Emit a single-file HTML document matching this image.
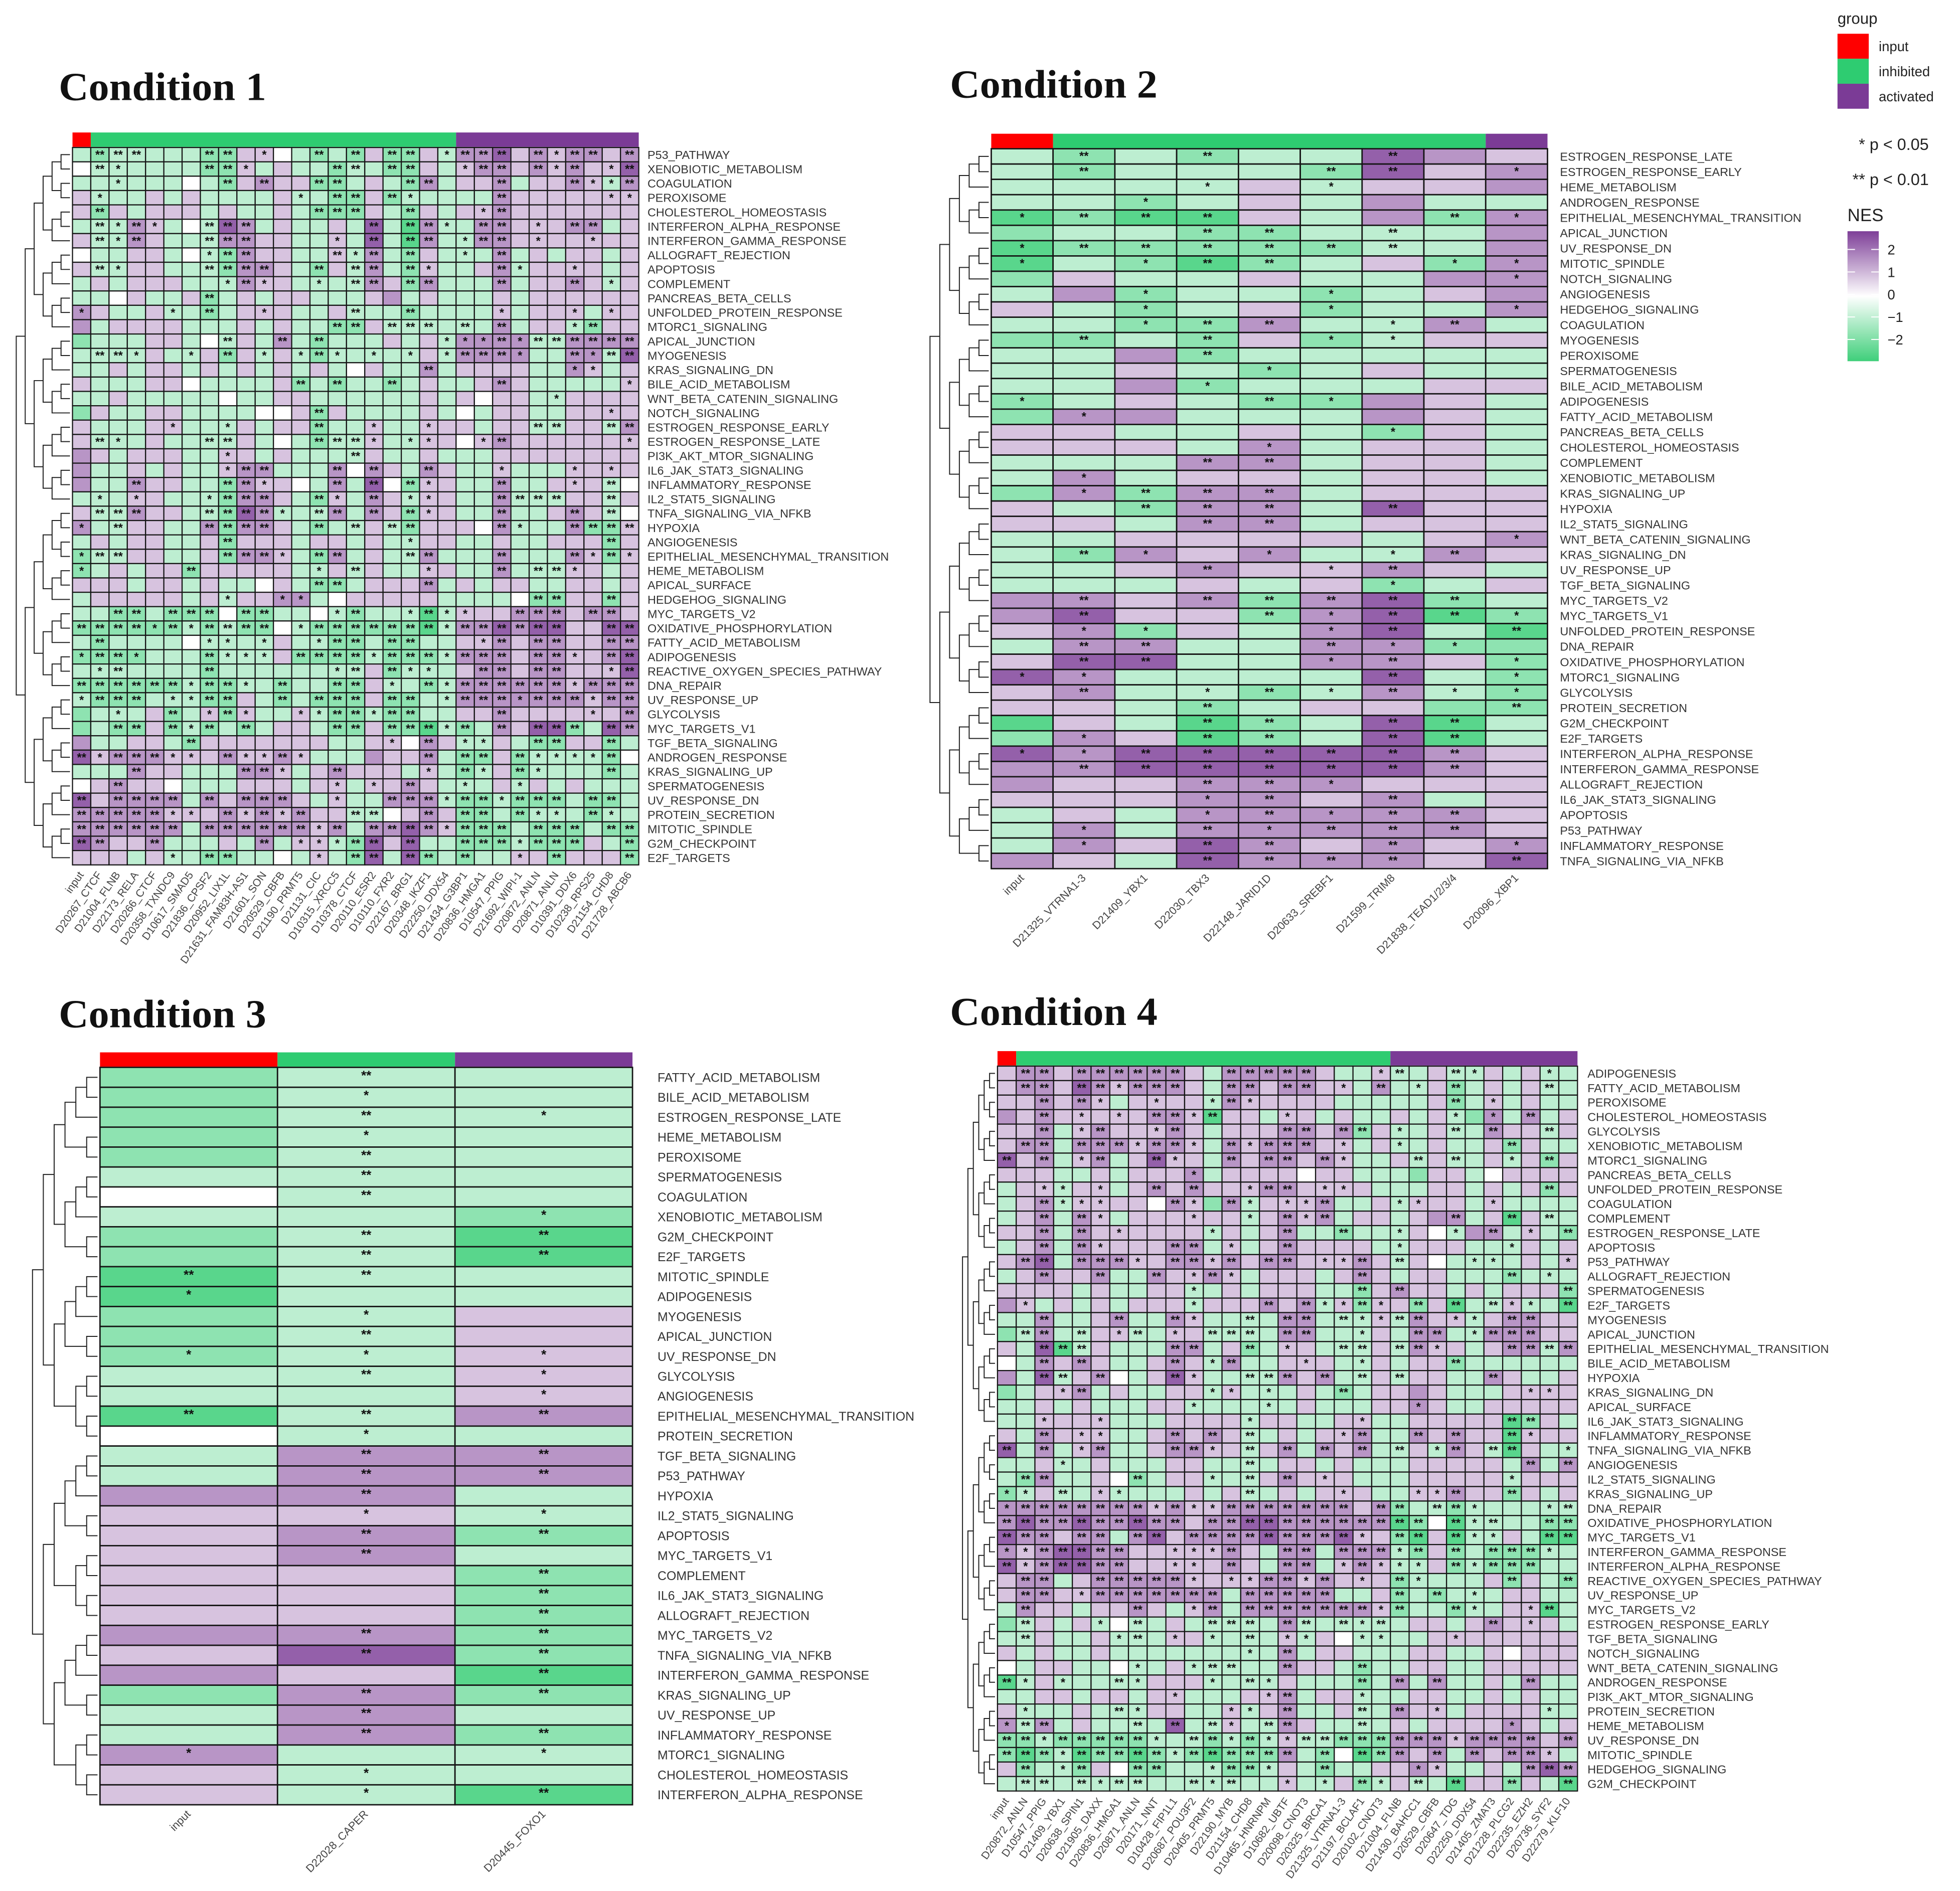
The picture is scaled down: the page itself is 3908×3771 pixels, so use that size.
<!DOCTYPE html>
<html><head><meta charset="utf-8">
<style>
html,body{margin:0;padding:0;background:#fff;}
svg{display:block;}
text{font-family:"Liberation Sans",sans-serif;}
.title{font-family:"Liberation Serif",serif;font-weight:bold;}
</style></head>
<body>
<svg id="fig" width="3908" height="3771" viewBox="0 0 1568 1513" preserveAspectRatio="none" xmlns="http://www.w3.org/2000/svg">
<g id="legend">
 <text x="1470" y="19" font-size="12.5" fill="#222">group</text>
 <rect x="1470" y="27" width="25" height="20" fill="#ff0000"/>
 <rect x="1470" y="47" width="25" height="20" fill="#2ecc71"/>
 <rect x="1470" y="67" width="25" height="20" fill="#7b3b96"/>
 <text x="1503" y="41" font-size="11" fill="#222">input</text>
 <text x="1503" y="61" font-size="11" fill="#222">inhibited</text>
 <text x="1503" y="81" font-size="11" fill="#222">activated</text>
 <text x="1487" y="120" font-size="13" fill="#222">* p &lt; 0.05</text>
 <text x="1482" y="148" font-size="13" fill="#222">** p &lt; 0.01</text>
 <text x="1478" y="177" font-size="14" fill="#222">NES</text>
 <defs><linearGradient id="nesg" x1="0" y1="0" x2="0" y2="1">
  <stop offset="0" stop-color="#7e3f98"/><stop offset="0.5" stop-color="#ffffff"/><stop offset="1" stop-color="#3fcf7a"/>
 </linearGradient></defs>
 <rect x="1478" y="185" width="25" height="104" fill="url(#nesg)"/>
 <g id="nesTicks"></g>
</g>
<g id="panels"></g>
</svg>
<script>
// ===== Shared data =====
const levelMap = {G:-2.5, g:-1.7, l:-1.0, w:0.0, q:0.9, p:1.6, P:2.4};
const nesTickValues = [2,1,0,-1,-2];
const nesTickLabels = ["2","1","0","\u22121","\u22122"];

// ===== Condition 1 =====
const c1Rows = ["P53_PATHWAY","XENOBIOTIC_METABOLISM","COAGULATION","PEROXISOME","CHOLESTEROL_HOMEOSTASIS","INTERFERON_ALPHA_RESPONSE","INTERFERON_GAMMA_RESPONSE","ALLOGRAFT_REJECTION","APOPTOSIS","COMPLEMENT","PANCREAS_BETA_CELLS","UNFOLDED_PROTEIN_RESPONSE","MTORC1_SIGNALING","APICAL_JUNCTION","MYOGENESIS","KRAS_SIGNALING_DN","BILE_ACID_METABOLISM","WNT_BETA_CATENIN_SIGNALING","NOTCH_SIGNALING","ESTROGEN_RESPONSE_EARLY","ESTROGEN_RESPONSE_LATE","PI3K_AKT_MTOR_SIGNALING","IL6_JAK_STAT3_SIGNALING","INFLAMMATORY_RESPONSE","IL2_STAT5_SIGNALING","TNFA_SIGNALING_VIA_NFKB","HYPOXIA","ANGIOGENESIS","EPITHELIAL_MESENCHYMAL_TRANSITION","HEME_METABOLISM","APICAL_SURFACE","HEDGEHOG_SIGNALING","MYC_TARGETS_V2","OXIDATIVE_PHOSPHORYLATION","FATTY_ACID_METABOLISM","ADIPOGENESIS","REACTIVE_OXYGEN_SPECIES_PATHWAY","DNA_REPAIR","UV_RESPONSE_UP","GLYCOLYSIS","MYC_TARGETS_V1","TGF_BETA_SIGNALING","ANDROGEN_RESPONSE","KRAS_SIGNALING_UP","SPERMATOGENESIS","UV_RESPONSE_DN","PROTEIN_SECRETION","MITOTIC_SPINDLE","G2M_CHECKPOINT","E2F_TARGETS"];
const c1Cols = ["input","D20267_CTCF","D21004_FLNB","D22173_RELA","D20266_CTCF","D20358_TXNDC9","D10617_SMAD5","D21836_CPSF2","D20952_LIX1L","D21631_FAM83H-AS1","D21601_SON","D20529_CBFB","D21190_PRMT5","D21131_CIC","D10315_XRCC5","D10378_CTCF","D20110_ESR2","D10110_FXR2","D22167_BRG1","D20348_IKZF1","D22250_DDX54","D21434_G3BP1","D20836_HMGA1","D10547_PPIG","D21692_WIPI-1","D20872_ANLN","D20871_ANLN","D10391_DDX6","D10238_RPS25","D21154_CHD8","D21728_ABCB6"];
const c1Groups = [1,20,10];
const c1Cells = [
"l0 g2 l2 l2 l0 l0 l0 g2 g2 q0 q1 w0 l0 g2 l0 g2 q0 g2 g2 q0 l1 p2 p2 P2 q0 p2 q1 p2 p2 q0 p2",
"w0 l2 l1 l0 l0 l0 l0 g2 g2 q1 l0 q0 l0 l0 g2 l2 l0 g2 g2 q0 l0 q1 p2 p2 q0 p2 q1 p2 q0 q1 P2",
"l0 l0 l1 l0 l0 l0 w0 l0 g2 q0 p2 q0 q0 g2 g2 l0 q0 l0 g2 p2 l0 q0 q0 p2 l0 q0 q0 p2 q1 l1 p2",
"q0 l1 l0 l0 q0 l0 q0 l0 l0 l0 l0 q0 l1 l0 g2 g2 q0 g2 l1 l0 l0 l0 l0 p2 q0 q0 q0 q0 q0 q1 q1",
"q0 g2 q0 l0 q0 q0 q0 l0 q0 l0 l0 q0 l0 g2 g2 g2 q0 l0 g2 q0 l0 q0 q1 p2 q0 q0 q0 q0 q0 q0 q0",
"l0 l2 l1 p2 q1 l0 w0 l2 P2 p2 l0 q0 l0 l0 q0 l0 P2 l0 G2 p2 l1 l0 p2 p2 q0 q1 q0 p2 p2 l0 q0",
"q0 l2 l1 p2 q0 l0 l0 l2 p2 p2 q0 q0 l0 l0 q1 l0 P2 l0 G2 p2 l0 l1 p2 p2 q0 q1 q0 q0 q1 q0 q0",
"w0 l0 l0 q0 q0 l0 w0 l1 g2 p2 q0 q0 l0 l0 q2 l1 p2 l0 g2 q0 l0 l1 l0 p2 l0 q0 l0 q0 q0 l0 q0",
"q0 l2 l1 q0 q0 l0 l0 l2 g2 p2 p2 q0 l0 g2 q0 l2 p2 l0 g2 q1 l0 l0 q0 p2 l1 q0 q0 q1 q0 l0 q0",
"l0 q0 l0 q0 q0 q0 l0 l0 l1 p2 q1 q0 l0 l1 l0 l2 p2 q0 g2 p2 l0 l0 l0 p2 l0 q0 q0 p2 q0 l1 q0",
"l0 l0 w0 q0 l0 l0 q0 g2 l0 q0 l0 q0 q0 l0 l0 l0 q0 p0 l0 q0 l0 l0 l0 q0 l0 q0 q0 q0 q0 q0 q0",
"p1 q0 l0 l0 q0 l1 l0 g2 l0 q0 q1 q0 l0 l0 q0 l2 l0 l0 g2 l0 l0 l0 l0 q1 l0 q0 q0 q1 l0 q1 q0",
"p0 l0 q0 q0 q0 q0 l0 l0 l0 q0 l0 q0 l0 l0 g2 g2 q0 l2 l2 l2 l0 l2 l0 p2 l0 q0 q0 l1 g2 q0 q0",
"g0 l0 l0 l0 q0 q0 l0 w0 l2 q0 l0 p2 l0 g2 l0 l0 l0 q0 l0 q0 l1 p1 p1 p2 p1 l2 l2 p2 p2 p2 p2",
"l0 l2 l2 l1 q0 l0 l1 q0 g2 q0 l1 q0 l1 g2 l1 l0 l1 l0 l1 q0 l1 p2 p2 p2 p1 l0 l0 p2 p1 l2 P2",
"l0 l0 q0 l0 q0 q0 l0 q0 l0 q0 l0 q0 l0 q0 l0 w0 q0 l0 l0 p2 l0 q0 q0 q0 q0 l0 l0 p1 q1 l0 q0",
"q0 l0 l0 l0 q0 q0 w0 l0 l0 l0 l0 q0 g2 l0 g2 l0 l0 g2 l0 q0 l0 l0 q0 p2 q0 l0 l0 l0 l0 l0 q1",
"l0 l0 q0 l0 l0 l0 l0 l0 w0 l0 l0 q0 q0 l0 l0 l0 l0 l0 l0 q0 l0 q0 w0 q0 q0 l0 l1 q0 q0 q0 q0",
"g0 q0 l0 l0 q0 q0 l0 l0 l0 l0 w0 w0 q0 g2 q0 l0 l0 l0 l0 q0 l0 w0 l0 q0 q0 l0 l0 q0 q0 q1 q0",
"q0 l0 l0 l0 q0 q1 l0 l0 l1 q0 l0 q0 q0 g2 l0 l0 q1 l0 l0 q1 q0 q0 l0 q0 q0 l2 l2 q0 q0 l2 p2",
"q0 l2 l1 l0 q0 l0 l0 l2 l2 q0 l0 w0 l0 g2 l2 l2 q1 l0 l1 q1 q0 w0 q1 p2 q0 q0 q0 q0 q0 q0 q1",
"p0 q0 l0 q0 q0 q0 l0 l0 q1 q0 l0 q0 l0 l0 l0 l2 q0 l0 l0 q0 l0 l0 l0 q0 q0 q0 q0 q0 q0 q0 q0",
"p0 l0 l0 q0 l0 q0 l0 l0 q1 p2 p2 l0 l0 l0 p2 w0 p2 q0 l0 p2 q0 l0 l0 q1 l0 l0 l0 q1 q0 q1 q0",
"p0 l0 l0 p2 q0 q0 l0 l0 g2 p2 q1 q0 w0 l0 p2 l0 P2 w0 g2 q1 q0 l0 l0 p2 l0 l0 q0 q1 q0 l2 w0",
"l0 l1 l0 q1 q0 l0 l0 l1 g2 p2 p2 q0 l0 g2 q1 l0 p2 q0 l1 q1 q0 l0 l0 p2 l2 l2 l2 q0 q0 l2 q0",
"q0 l2 l2 p2 q0 q0 l0 l2 g2 P2 p2 l1 l0 l2 p2 l0 p2 q0 g2 q1 q0 l0 l0 p2 l0 l0 q0 p2 q0 l2 w0",
"p1 l0 l2 q0 q0 l0 l0 p2 g2 p2 p2 q0 l0 g2 l0 l2 q0 l2 g2 q0 q0 q0 w0 p2 l1 l0 l0 p2 g2 g2 q2",
"l0 q0 l0 q0 q0 l0 l0 q0 g2 q0 q0 q0 l0 q0 q0 l0 q0 l0 l1 q0 q0 l0 l0 q0 l0 l0 q0 q0 q0 g2 q0",
"g1 l2 l2 q0 q0 l0 l0 q0 g2 p2 p2 q1 l0 g2 p2 l0 q0 l0 l2 p2 l0 l0 l0 p2 l0 l0 l0 p2 q1 g2 q1",
"g1 l0 q0 l0 q0 q0 g2 q0 q0 q0 q0 q0 l0 l1 q0 l2 q0 l0 l0 q1 q0 l0 l0 p2 l0 l2 l2 q1 q0 l0 q0",
"q0 q0 q0 l0 q0 q0 l0 q0 l0 l0 w0 q0 l0 g2 g2 l0 q0 q0 q0 p2 l0 q0 l0 q0 q0 l0 l0 q0 q0 l0 q0",
"l0 q0 q0 q0 q0 q0 l0 q0 l1 q0 q0 p1 p1 l0 w0 q0 q0 q0 q0 q0 l0 l0 l0 l0 w0 g2 g2 q0 q0 g2 q0",
"l0 l0 g2 g2 l0 g2 g2 g2 w0 g2 g2 l0 l0 w0 l1 g2 l0 l0 l1 G2 l1 q1 q0 q0 p2 p2 p2 q0 p2 p2 q0",
"g2 g2 g2 g2 g1 g2 l1 g2 l2 g2 g2 w0 l1 g2 g2 g2 g2 g2 g2 G2 l1 p2 p2 P2 p2 P2 P2 q0 q0 P2 P2",
"l0 g2 l0 l0 l0 l0 w0 l1 l1 l0 l1 q0 l0 l1 g2 g2 l0 g2 g2 l0 l0 q0 q1 p2 q0 p2 p2 q0 q0 p2 p2",
"g1 g2 g2 g1 l0 l0 l0 g2 l1 l1 l1 q0 g2 g2 g2 g2 l1 g2 g2 g2 l1 p2 p2 p2 q0 p2 p2 q1 q0 p2 P2",
"l0 l1 l2 l0 l0 l0 l0 g2 l0 l0 l0 l0 l0 l0 l1 l2 q0 g2 l1 l1 l0 q0 p2 p2 q0 p2 p2 q0 q0 q1 P2",
"g2 g2 g2 g2 g2 g2 l1 g2 g2 l1 l0 g2 l0 l0 g2 g2 q0 l1 l0 g2 l1 p2 p2 p2 p2 p2 p2 q1 p2 p2 p2",
"l1 g2 g2 g2 l0 l1 l1 g2 g2 q0 l0 g2 l0 g2 g2 g2 q0 g2 g2 l0 l1 p2 p2 p2 p1 p2 p2 p2 q1 p2 p2",
"g0 l0 l1 l0 q0 g2 l0 q1 g2 q1 l0 l0 q1 l1 g2 g2 l1 g2 g2 l0 l0 q0 q0 p2 q0 q0 q0 q0 q1 q0 p2",
"g0 l0 g2 g2 q0 g2 l1 g2 l0 g2 l0 q0 q0 l0 g2 g2 q0 g2 g2 G2 l1 g2 l0 p2 q0 P2 P2 g2 l0 P2 p2",
"p0 l0 l0 q0 q0 l0 g2 q0 q0 q0 q0 q0 q0 q0 l0 l0 q0 q1 w0 p2 q0 l1 l1 q0 l0 g2 g2 q0 q0 g2 l0",
"P2 q1 p2 p2 p2 q1 q1 q0 p2 q1 q1 p2 q1 l0 l0 l0 p0 q0 q0 p2 l0 g2 g2 q0 g2 l1 l1 l1 l1 g2 w0",
"l0 l0 l0 p2 q0 q0 l0 l0 l0 p2 p2 q1 l0 q0 p2 q0 q0 q0 l0 q1 l0 g2 l1 q0 g2 l1 l0 l0 l0 g2 l0",
"w0 q0 p2 q0 q0 w0 l0 l0 l0 q0 q0 q0 l0 q0 q1 l0 q1 q0 p2 q0 l0 l1 l0 q0 l1 q0 l0 q0 l0 l0 l0",
"P2 q0 p2 p2 p2 p2 l0 p2 q0 p2 p2 p2 q0 l0 q1 l0 l0 p2 p2 p2 l1 g2 g2 l1 g2 g2 g2 l0 g2 g2 l0",
"p2 p2 p2 p2 p2 q1 q1 q0 p2 q1 p2 q1 p2 q0 q0 l2 l2 w0 q0 p2 q0 g2 g2 l0 g2 l1 l1 l0 g2 l1 l0",
"p2 p2 p2 p2 p2 p2 l0 p2 p2 p2 p2 p2 p2 q1 p2 l0 p2 p2 P2 p2 q1 g2 g2 g2 l0 g2 g2 g2 l0 g2 g2",
"P2 p2 q0 q0 p2 l0 l0 l0 q0 l0 p2 l0 q1 q1 l1 g2 P2 q0 P2 l0 l0 g2 g2 g2 l1 g2 g2 g2 q0 l0 g2",
"q0 q0 q0 l0 q0 l1 l0 g2 g2 l0 l0 w0 l0 q1 l0 g2 P2 l0 P2 g2 l0 g2 l0 l0 q1 q0 g2 q0 q0 q0 g2"
];

// ===== Condition 2 =====
const c2Rows = ["ESTROGEN_RESPONSE_LATE","ESTROGEN_RESPONSE_EARLY","HEME_METABOLISM","ANDROGEN_RESPONSE","EPITHELIAL_MESENCHYMAL_TRANSITION","APICAL_JUNCTION","UV_RESPONSE_DN","MITOTIC_SPINDLE","NOTCH_SIGNALING","ANGIOGENESIS","HEDGEHOG_SIGNALING","COAGULATION","MYOGENESIS","PEROXISOME","SPERMATOGENESIS","BILE_ACID_METABOLISM","ADIPOGENESIS","FATTY_ACID_METABOLISM","PANCREAS_BETA_CELLS","CHOLESTEROL_HOMEOSTASIS","COMPLEMENT","XENOBIOTIC_METABOLISM","KRAS_SIGNALING_UP","HYPOXIA","IL2_STAT5_SIGNALING","WNT_BETA_CATENIN_SIGNALING","KRAS_SIGNALING_DN","UV_RESPONSE_UP","TGF_BETA_SIGNALING","MYC_TARGETS_V2","MYC_TARGETS_V1","UNFOLDED_PROTEIN_RESPONSE","DNA_REPAIR","OXIDATIVE_PHOSPHORYLATION","MTORC1_SIGNALING","GLYCOLYSIS","PROTEIN_SECRETION","G2M_CHECKPOINT","E2F_TARGETS","INTERFERON_ALPHA_RESPONSE","INTERFERON_GAMMA_RESPONSE","ALLOGRAFT_REJECTION","IL6_JAK_STAT3_SIGNALING","APOPTOSIS","P53_PATHWAY","INFLAMMATORY_RESPONSE","TNFA_SIGNALING_VIA_NFKB"];
const c2Cols = ["input","D21325_VTRNA1-3","D21409_YBX1","D22030_TBX3","D22148_JARID1D","D20633_SREBF1","D21599_TRIM8","D21838_TEAD1/2/3/4","D20096_XBP1"];
const c2Groups = [1,7,1];
const c2Cells = [
"l0 g2 l0 g2 l0 l0 P2 p0 q0","l0 g2 l0 l0 l0 g2 P2 q0 p1","l0 l0 l0 l1 q0 l1 q0 q0 p0","l0 l0 g1 l0 q0 l0 p0 l0 l0",
"G1 g2 G2 G2 q0 l0 p0 g2 p1","g0 l0 l0 g2 g2 l0 l2 l0 p0","G1 g2 g2 g2 g2 g2 l2 l0 p0","G1 l0 g1 G2 g2 l0 q0 g1 p1",
"g0 q0 l0 l0 q0 l0 l0 p0 p1","l0 p0 g1 l0 l0 g1 l0 q0 p0","q0 l0 g1 l0 q0 g1 l0 l0 p1","l0 l0 g1 g2 p2 l0 l1 p2 l0",
"g0 g2 l0 g2 q0 g1 l1 q0 q0","l0 l0 p0 g2 l0 l0 l0 l0 l0","l0 l0 q0 l0 g1 l0 q0 l0 l0","l0 l0 p0 g1 l0 l0 l0 q0 q0",
"g1 l0 q0 l0 g2 g1 p0 q0 l0","g0 p1 p0 l0 l0 l0 p0 q0 l0","q0 q0 l0 l0 q0 l0 g1 q0 l0","q0 q0 q0 l0 p1 l0 q0 q0 l0",
"l0 l0 l0 p2 p2 l0 q0 q0 l0","l0 p1 l0 q0 q0 l0 q0 q0 l0","g0 p1 g2 p2 p2 l0 q0 q0 q0","q0 l0 g2 p2 p2 l0 P2 q0 q0",
"q0 q0 l0 p2 p2 l0 q0 q0 q0","l0 l0 q0 q0 q0 q0 l0 q0 p1","l0 g2 p1 q0 p1 l0 l1 p2 q0","l0 l0 q0 p2 q0 q1 p2 q0 l0",
"l0 l0 l0 q0 l0 q0 g1 l0 q0","p0 p2 q0 p2 g2 p2 P2 g2 l0","p0 P2 q0 q0 g2 p1 P2 G2 g1","q0 p1 g1 q0 l0 p1 P2 l0 G2",
"l0 p2 p2 l0 l0 p2 p1 g1 g0","q0 P2 P2 l0 l0 p1 p2 q0 g1","P1 p1 l0 l0 l0 l0 P2 l0 g1","q0 p2 l0 l1 g2 l1 p2 l1 g1",
"q0 q0 l0 g2 l0 q0 q0 g0 g2","G0 q0 l0 G2 g2 l0 P2 G2 l0","g0 p1 q0 G2 g2 l0 P2 G2 l0","P1 p1 P2 P2 P2 P2 P2 p2 q0",
"p0 p2 P2 P2 P2 P2 P2 p2 q0","p0 q0 q0 p2 p2 p1 q0 q0 q0","q0 q0 q0 p1 p2 q0 p2 l0 q0","l0 q0 l0 p1 p2 p1 p2 p2 q0",
"l0 p1 l0 p2 p1 p2 p2 p2 q0","l0 p1 q0 P2 p2 q0 p2 q0 p1","p0 q0 l0 P2 p2 p2 p2 q0 P2"
];

// ===== Condition 3 =====
const c3Rows = ["FATTY_ACID_METABOLISM","BILE_ACID_METABOLISM","ESTROGEN_RESPONSE_LATE","HEME_METABOLISM","PEROXISOME","SPERMATOGENESIS","COAGULATION","XENOBIOTIC_METABOLISM","G2M_CHECKPOINT","E2F_TARGETS","MITOTIC_SPINDLE","ADIPOGENESIS","MYOGENESIS","APICAL_JUNCTION","UV_RESPONSE_DN","GLYCOLYSIS","ANGIOGENESIS","EPITHELIAL_MESENCHYMAL_TRANSITION","PROTEIN_SECRETION","TGF_BETA_SIGNALING","P53_PATHWAY","HYPOXIA","IL2_STAT5_SIGNALING","APOPTOSIS","MYC_TARGETS_V1","COMPLEMENT","IL6_JAK_STAT3_SIGNALING","ALLOGRAFT_REJECTION","MYC_TARGETS_V2","TNFA_SIGNALING_VIA_NFKB","INTERFERON_GAMMA_RESPONSE","KRAS_SIGNALING_UP","UV_RESPONSE_UP","INFLAMMATORY_RESPONSE","MTORC1_SIGNALING","CHOLESTEROL_HOMEOSTASIS","INTERFERON_ALPHA_RESPONSE"];
const c3Cols = ["input","D22028_CAPER","D20445_FOXO1"];
const c3Groups = [1,1,1];
const c3Cells = [
"g0 l2 l0","g0 l1 l0","g0 l2 l1","g0 l1 l0","g0 l2 l0","l0 l2 l0","w0 l2 l0","l0 l0 g1","g0 l2 G2","g0 l2 G2",
"G2 l2 l0","G1 l0 l0","g0 l1 q0","g0 l2 q0","g1 l1 q1","l0 l2 q1","l0 l0 q1","G2 l2 p2","w0 l1 l0","l0 p2 p2",
"l0 p2 p2","p0 p2 l0","q0 q1 l1","q0 p2 g2","q0 p2 l0","q0 q0 g2","q0 q0 g2","q0 q0 g2","p0 p2 g2","q0 P2 g2",
"p0 q0 G2","g0 p2 g2","l0 p2 l0","l0 p2 g2","p1 l0 l1","q0 l1 l0","q0 l1 G2"
];

// ===== Condition 4 =====
const c4Rows = ["ADIPOGENESIS","FATTY_ACID_METABOLISM","PEROXISOME","CHOLESTEROL_HOMEOSTASIS","GLYCOLYSIS","XENOBIOTIC_METABOLISM","MTORC1_SIGNALING","PANCREAS_BETA_CELLS","UNFOLDED_PROTEIN_RESPONSE","COAGULATION","COMPLEMENT","ESTROGEN_RESPONSE_LATE","APOPTOSIS","P53_PATHWAY","ALLOGRAFT_REJECTION","SPERMATOGENESIS","E2F_TARGETS","MYOGENESIS","APICAL_JUNCTION","EPITHELIAL_MESENCHYMAL_TRANSITION","BILE_ACID_METABOLISM","HYPOXIA","KRAS_SIGNALING_DN","APICAL_SURFACE","IL6_JAK_STAT3_SIGNALING","INFLAMMATORY_RESPONSE","TNFA_SIGNALING_VIA_NFKB","ANGIOGENESIS","IL2_STAT5_SIGNALING","KRAS_SIGNALING_UP","DNA_REPAIR","OXIDATIVE_PHOSPHORYLATION","MYC_TARGETS_V1","INTERFERON_GAMMA_RESPONSE","INTERFERON_ALPHA_RESPONSE","REACTIVE_OXYGEN_SPECIES_PATHWAY","UV_RESPONSE_UP","MYC_TARGETS_V2","ESTROGEN_RESPONSE_EARLY","TGF_BETA_SIGNALING","NOTCH_SIGNALING","WNT_BETA_CATENIN_SIGNALING","ANDROGEN_RESPONSE","PI3K_AKT_MTOR_SIGNALING","PROTEIN_SECRETION","HEME_METABOLISM","UV_RESPONSE_DN","MITOTIC_SPINDLE","HEDGEHOG_SIGNALING","G2M_CHECKPOINT"];
const c4Cols = ["input","D20872_ANLN","D10547_PPIG","D21409_YBX1","D20638_SPIN1","D21905_DAXX","D20836_HMGA1","D20871_ANLN","D20171_NNT","D10428_FIP1L1","D20687_POU3F2","D20405_PRMT5","D22190_MYB","D21154_CHD8","D10465_HNRNPM","D10682_UBTF","D20098_CNOT3","D20325_BRCA1","D21325_VTRNA1-3","D21197_BCLAF1","D20102_CNOT3","D21004_FLNB","D21430_BAHCC1","D20529_CBFB","D20647_TDG","D22250_DDX54","D21405_ZMAT3","D21228_PLCG2","D22235_EZH2","D20736_SYF2","D22279_KLF10"];
const c4Groups = [1,20,10];
const c4Cells = [
"q0 p2 p2 q0 p2 p2 p2 p2 p2 p2 q0 l0 p2 p2 p2 p2 p2 q0 l0 l0 q1 l2 l0 q0 l2 l1 q0 l0 q0 l1 l0",
"q0 p2 p2 q0 P2 p2 q1 p2 p2 p2 q0 l0 p2 p2 q0 p2 p2 q0 q1 l0 p2 l0 l1 q0 g2 l0 q0 l0 q0 l2 l0",
"q0 q0 p2 q0 p2 q1 l0 q0 q1 q0 q0 l1 p2 q1 q0 q0 q0 q0 l0 l0 l0 l0 l0 q0 g2 l0 q1 l0 q0 l0 l0",
"p0 q0 p2 q0 q1 q0 q1 q0 p2 p2 q1 G2 q0 q0 l0 q1 q0 l0 q0 l0 l0 q0 l0 q0 l1 g0 p1 l0 p2 l0 q0",
"q0 q0 p2 l0 q1 p2 q0 q0 q1 p2 q0 l0 q0 q0 q0 p2 p2 q0 p2 g2 q0 l1 l0 q0 l2 l0 p2 q0 q0 l2 q0",
"q0 p2 p2 l0 p2 p2 p2 q1 p2 p2 q1 l0 p2 q1 p2 p2 p2 q0 q1 l0 q0 l1 l0 q0 l0 l0 q0 g2 q0 l0 l0",
"P2 q0 p2 l0 q1 p2 l0 q0 P2 q1 q0 l0 p2 q0 p2 p2 q0 p2 q1 l0 l0 q0 l2 q0 l2 l0 q0 l1 q0 g2 q0",
"q0 q0 q0 l0 l0 q0 l0 q0 q0 q0 p1 l0 q0 q0 q0 q0 w0 q0 q0 l0 l0 l0 g0 q0 q0 l0 w0 q0 q0 q0 q0",
"l0 q0 q1 l1 q0 q1 l0 q0 p2 q0 p2 q0 q0 q1 p2 p2 q0 q1 q1 q0 l0 l0 l0 q0 q0 l0 q0 l0 q0 g2 q0",
"l0 q0 p2 l1 q1 q1 q0 q0 w0 p2 q1 g0 p2 l1 q0 q1 q1 p2 l0 l0 q0 l1 q1 q0 q0 l0 q1 l0 l0 l0 l0",
"l0 q0 p2 l0 p2 q1 l0 q0 q0 q0 q1 q0 q0 l1 q0 p2 q1 p2 l0 q0 q0 l0 q0 p0 p2 l0 q0 G2 q0 l2 l0",
"q0 q0 p2 l0 p2 q0 q1 q0 q0 q0 q0 l1 q0 l0 q0 p2 l0 l0 g2 l0 l0 l1 q0 w0 l1 p0 p2 l0 q1 l0 g2",
"l0 q0 p2 l0 p2 q1 q0 q0 q0 p2 p2 l0 q1 l0 q0 p2 q0 q0 q0 q0 l0 l1 q0 q0 q0 l0 l0 l1 q0 l0 q0",
"q0 p2 P2 l0 p2 p2 p2 q1 q0 p2 p2 q1 p2 q0 p2 p2 q0 q1 q1 p2 q0 l2 q0 w0 l0 l1 l1 l0 q0 l0 q1",
"l0 q0 p2 q0 q0 p2 l0 l0 p2 q0 q1 p2 q1 l0 q0 q0 q0 l0 q0 p2 q0 l0 q0 q0 l0 l0 l0 g2 l0 l1 l0",
"q0 q0 q0 q0 l0 q0 l0 l0 q0 q0 l1 l0 q0 l0 q0 q0 q0 l0 l0 g2 q0 p2 q0 q0 l0 q0 l0 q0 q0 q0 g2",
"p0 q1 l0 q0 l0 q0 l0 q0 q0 q0 l1 q0 q0 q0 p2 q0 p2 l1 q1 g2 q1 q0 g2 q0 G2 l0 l2 q1 l1 l0 G2",
"l0 l0 p2 l0 l0 q0 p2 l0 l0 p2 q1 l0 l0 l2 l0 p2 p2 l0 l2 l1 q1 l2 p2 q0 q1 l1 q0 p2 p2 q0 q0",
"g0 l2 p2 l0 l2 q0 q1 l2 l0 q1 q0 l2 l2 l2 l0 p2 p2 l0 l0 l1 q0 l0 p2 p2 l0 l1 p2 p2 p2 q0 q0",
"q0 l0 P2 G2 l2 q0 l0 l0 l0 p2 p2 l0 q0 g2 l0 q1 q0 l0 l2 l2 q0 l2 p2 q1 q0 l0 q0 p2 p2 l2 p2",
"w0 l0 p2 q0 p2 q0 l0 l0 q0 p2 q0 l1 p2 l0 l0 q0 q1 q0 l0 l1 q0 l0 q0 q0 g2 l0 l0 l0 l0 l0 l0",
"p0 l0 P2 l2 q0 p2 w0 l0 q0 P2 q1 l0 l0 l2 l2 p2 q0 p2 l0 l2 q0 l2 q0 q0 l0 l0 p2 q0 l0 l0 q0",
"g0 l0 q0 q1 p2 l0 q0 l0 l0 q0 q0 l1 q1 l0 l1 l0 q0 l0 g2 l0 q0 q0 p0 q0 l0 l0 l0 q0 q1 q1 q0",
"l0 l0 q0 l0 q0 l0 l0 l0 q0 q0 l1 l0 l0 l0 l1 l0 q0 l0 l0 l0 q0 q0 p1 q0 l0 l0 q0 q0 q0 q0 q0",
"l0 l0 q1 q0 q0 q1 l0 l0 l0 q0 q0 q0 q0 l1 q0 q0 l0 l0 q0 q1 l0 l0 q0 q0 q0 q0 q0 G2 g2 q0 l0",
"q0 l0 p2 q0 q1 q1 l0 l0 q0 p2 q0 p2 q0 l2 l0 q0 l0 q0 q1 p2 l0 l0 p2 q0 p2 q0 q0 G2 q1 q0 q0",
"P2 l0 p2 l0 q1 p2 l0 l0 q0 p2 p2 q1 q0 l2 q0 p2 l0 p2 q0 p2 l0 l2 q0 l1 p2 q0 l2 G2 q0 l0 l1",
"l0 l0 q0 l1 l0 q0 l0 l0 l0 q0 q0 l0 l0 l2 l0 q0 q0 l0 q0 l0 l0 l0 q0 q0 q0 q0 q0 l0 p2 l0 p2",
"l0 g2 p2 l0 l0 q0 w0 g2 l0 q0 q0 l1 l0 l2 q0 p2 q0 q1 q0 l0 l0 l0 q0 q0 q0 q0 q0 l1 q0 q0 q0",
"g1 l1 q0 l2 l0 q1 l1 l0 l0 l0 q0 l0 q0 l2 l0 q0 l0 q0 q1 q0 l0 l0 q1 q1 p2 q0 q0 g2 q0 l0 q0",
"p1 p2 p2 p2 p2 p2 p2 p2 q1 p2 q1 q1 p2 p2 p2 p2 p2 p2 p2 q0 p2 g2 l0 l2 g2 l1 l0 l0 l0 l1 l2",
"p2 P2 p2 p2 P2 p2 p2 P2 p2 p2 q0 p2 p2 P2 P2 p2 p2 p2 p2 p2 p2 G2 g2 w0 G2 l1 l2 l0 l0 g2 g2",
"P2 p2 p2 q0 p2 p2 l0 p2 P2 q0 p2 p2 p2 p2 P2 p2 p2 p2 P2 q1 q0 g2 G2 q0 G2 l1 l1 q0 l0 G2 G2",
"p1 q1 p2 P2 P2 p2 p2 q0 q0 q1 q1 q1 p2 q0 l0 p2 p2 l0 p2 p2 p2 l1 g2 q0 g2 l0 g2 g2 g2 l1 l0",
"P2 q1 p2 P2 P2 p2 p2 q0 q0 q1 q1 q0 p2 q0 l0 p2 p2 l0 q1 p2 q1 l1 l1 q0 g2 l1 g2 g2 g2 l0 l0",
"q0 p2 p2 l0 q0 p2 p2 p2 p2 p2 q1 q0 q1 q1 p2 p2 q1 p2 q0 q1 q0 g2 l1 l0 l0 l0 q0 g2 q0 l0 g2",
"q0 p2 p2 q0 q1 p2 p2 p2 p2 p2 p2 p2 l0 p2 p2 p2 p2 p2 l0 l0 q0 g2 l0 g2 l0 l1 l0 q0 q0 l0 l0",
"l0 p2 q0 q0 l0 q0 q0 p2 q0 l0 q1 p2 l0 p2 p2 p2 p2 p2 p2 p2 q1 g2 l0 l0 g2 l1 l0 q0 q1 G2 l0",
"g0 l2 q0 l0 q0 l1 w0 l2 l0 q0 l0 l2 l2 l2 l0 p2 l2 l0 l2 l1 l2 l0 q0 q0 l0 q0 p2 q0 q1 q0 l0",
"l0 l2 q0 l0 l0 q0 l1 l2 l0 q1 q0 l1 l0 l2 l0 q1 l1 q0 w0 l1 l1 l0 l0 q0 q1 q0 q0 q0 q0 q0 q0",
"q0 l0 q0 l0 l0 q0 l0 l0 l0 l0 l0 l0 l0 l1 l0 p2 l0 q0 q0 l0 l0 l0 q0 q0 l0 l0 q0 w0 q0 q0 q0",
"w0 l0 q0 q0 l0 l0 w0 l1 l0 q0 l1 l2 l2 l0 l0 p2 q0 q0 l0 g2 l0 l0 q0 q0 l0 l0 q0 q0 q0 q0 q0",
"G2 l1 q0 l1 l0 l0 l2 l1 q0 q0 q0 l1 l0 l2 l1 q0 l0 l0 l0 g2 l0 p2 l0 p2 l0 l0 q0 l0 p2 l0 l0",
"l0 l0 q0 q0 l0 q0 q0 l0 q0 q1 l0 l0 l0 q0 q1 p2 l0 q0 q0 l1 l0 l0 q0 q0 l0 l0 q0 l0 q0 l0 l0",
"q0 l1 l0 l0 q0 l0 l2 l1 q0 q0 l0 l0 q1 l1 q0 p2 l0 l0 q0 l2 l0 p2 q0 q1 l0 q0 q0 q0 q0 l1 l0",
"p1 l2 p2 l0 q0 l0 l0 l2 l0 P2 l0 l2 q1 l0 l2 p2 q0 l0 l0 l2 l0 q0 l0 q0 q0 q0 q0 p1 q0 l0 q0",
"g2 g2 l1 g2 g2 g2 g2 g2 l1 l0 l2 g2 l1 g2 l1 q1 l2 l2 g2 g2 g2 p2 p2 p2 q1 p2 p2 p2 p2 q0 p2",
"g2 G2 g2 l1 G2 g2 g2 G2 g2 l1 g2 G2 g2 g2 g2 p2 l0 g2 w0 G2 g2 p2 q0 p2 l0 p2 q0 p2 p2 q1 l0",
"q0 g2 l0 l1 g2 q0 w0 g2 g2 l0 l0 l1 g2 g2 l1 q0 l0 g2 l0 l0 q0 q0 p1 q1 l0 l0 q0 l0 p2 P2 p2",
"l0 l2 l2 l0 l2 l1 l2 l2 l0 l0 l2 l1 l2 l0 l0 q1 l0 l1 q0 g2 l1 q0 l2 l0 G2 q0 q0 g2 q0 l0 G2"
];

// ===== rendering =====
const SVGNS = "http://www.w3.org/2000/svg";
function mk(tag, attrs, parent){
  const e = document.createElementNS(SVGNS, tag);
  for (const k in attrs) e.setAttribute(k, attrs[k]);
  if (parent) parent.appendChild(e);
  return e;
}
function nesColor(v){
  const lim = 2.9;
  let t = Math.max(-1, Math.min(1, v/lim));
  let c = t >= 0 ? [126,63,152] : [63,207,122];
  const a = Math.abs(t);
  const r = Math.round(255 + (c[0]-255)*a), g = Math.round(255 + (c[1]-255)*a), b = Math.round(255 + (c[2]-255)*a);
  return "rgb("+r+","+g+","+b+")";
}
function parseCells(rows, ncol){
  return rows.map(r => {
    const t = r.trim().split(/\s+/);
    const out = [];
    for (let i=0;i<ncol;i++){
      const tok = t[i] || "w0";
      out.push({v: levelMap[tok[0]], s: parseInt(tok[1]||"0",10)});
    }
    return out;
  });
}
const svg = document.getElementById("panels");

const nesG = document.getElementById("nesTicks");
function nesY(v){ return 235.6 - v*18; }
nesTickValues.forEach((v,i)=>{
  const y = nesY(v);
  const l1 = mk("line",{x1:1478,x2:1484,y1:y,y2:y,stroke:"#fff","stroke-width":0.8},nesG);
  
  
  const l2 = mk("line",{x1:1497,x2:1503,y1:y,y2:y,stroke:"#fff","stroke-width":0.8},nesG);
  
  
  const t = mk("text",{x:1510,y:y+4,"font-size":11,fill:"#222"},nesG);
  t.textContent = nesTickLabels[i];
  
  
});

function dendro(g, ys, xl, xr, name){
  function build(lo, hi){
    if (lo === hi) return {y: ys[lo], h: 0};
    const mid = Math.floor((lo+hi)/2);
    const a = build(lo, mid), b = build(mid+1, hi);
    return {y:(a.y+b.y)/2, h: Math.max(a.h,b.h)+1, a:a, b:b};
  }
  const root = build(0, ys.length-1);
  const maxH = root.h;
  const X = h => xr - (h/maxH)*(xr-xl);
  let d = "";
  (function draw(n){
    if (!n.a) return;
    const x = X(n.h);
    d += "M"+X(n.a.h)+","+n.a.y+"H"+x+"V"+n.b.y+"H"+X(n.b.h);
    draw(n.a); draw(n.b);
  })(root);
  const p = mk("path",{d:d,fill:"none",stroke:"#222","stroke-width":0.8},g);
  
  
}

function panel(cfg){
  const g = mk("g",{},svg);
  
  
  const nr = cfg.rows.length, nc = cfg.cols.length;
  const cw = (cfg.x1-cfg.x0)/nc, rh = (cfg.y1-cfg.y0)/nr;
  const xScale = i => cfg.x0 + i*cw;
  const yScale = j => cfg.y0 + j*rh;
  const cells = parseCells(cfg.cells, nc);

  const tt = mk("text",{x:cfg.tx,y:cfg.ty,"font-size":32,fill:"#111","class":"title",textLength:166,lengthAdjust:"spacingAndGlyphs"},g);
  tt.textContent = cfg.title;
  
  

  const gcol = ["#ff0000","#2ecc71","#7b3b96"];
  const gname = ["group-bar-input","group-bar-inhibited","group-bar-activated"];
  let ci = 0;
  cfg.groups.forEach((n,k)=>{
    const r = mk("rect",{x:xScale(ci),y:cfg.y0-12,width:n*cw,height:11.5,fill:gcol[k]},g);
    
    
    ci += n;
  });

  const fsStar = cfg.starSize;
  cells.forEach((row,j)=>{
    row.forEach((c,i)=>{
      const r = mk("rect",{x:xScale(i),y:yScale(j),width:cw,height:rh,fill:nesColor(c.v),stroke:"#151515","stroke-width":cfg.sw},g);
      
      
      if (c.s>0){
        const s = mk("text",{x:xScale(i)+cw/2,y:yScale(j)+fsStar*0.95,"font-size":fsStar,"text-anchor":"middle",fill:"#111","font-weight":"bold"},g);
        s.textContent = c.s===2 ? "**" : "*";
        
        
      }
    });
  });

  const ys = [];
  cfg.rows.forEach((lab,j)=>{
    const y = yScale(j)+rh/2;
    ys.push(y);
    const t = mk("text",{x:cfg.x1+cfg.lpad,y:y+cfg.rfs*0.36,"font-size":cfg.rfs,fill:"#333"},g);
    t.textContent = lab;
    
    
  });
  cfg.cols.forEach((lab,i)=>{
    const x = xScale(i)+cw/2+2, y = cfg.y1+8;
    const t = mk("text",{x:x,y:y,"font-size":cfg.cfs,fill:"#444","text-anchor":"end",transform:"rotate("+cfg.rot+" "+x+" "+y+")"},g);
    t.textContent = lab;
    
    
  });
  dendro(g, ys, cfg.dx0, cfg.dx1, 'row-dendrogram');
}

panel({name:"condition-1-heatmap",title:"Condition 1",tx:47,ty:80,x0:58,x1:511,y0:118,y1:692,rows:c1Rows,cols:c1Cols,groups:c1Groups,cells:c1Cells,starSize:9.5,sw:0.9,rfs:9.4,cfs:8.6,lpad:7,rot:-55,dx0:13,dx1:56});
panel({name:"condition-2-heatmap",title:"Condition 2",tx:760,ty:78,x0:793,x1:1238,y0:119,y1:695,rows:c2Rows,cols:c2Cols,groups:c2Groups,cells:c2Cells,starSize:9.5,sw:1.1,rfs:9.4,cfs:8.8,lpad:10,rot:-45,dx0:744,dx1:791});
panel({name:"condition-3-heatmap",title:"Condition 3",tx:47,ty:822,x0:80,x1:506,y0:854,y1:1444,rows:c3Rows,cols:c3Cols,groups:c3Groups,cells:c3Cells,starSize:10.5,sw:1.1,rfs:10,cfs:8.8,lpad:20,rot:-45,dx0:26,dx1:78});
panel({name:"condition-4-heatmap",title:"Condition 4",tx:760,ty:820,x0:798,x1:1262,y0:853,y1:1433,rows:c4Rows,cols:c4Cols,groups:c4Groups,cells:c4Cells,starSize:9.5,sw:0.9,rfs:9.4,cfs:8.6,lpad:8,rot:-55,dx0:770,dx1:796});
</script>
</body></html>
